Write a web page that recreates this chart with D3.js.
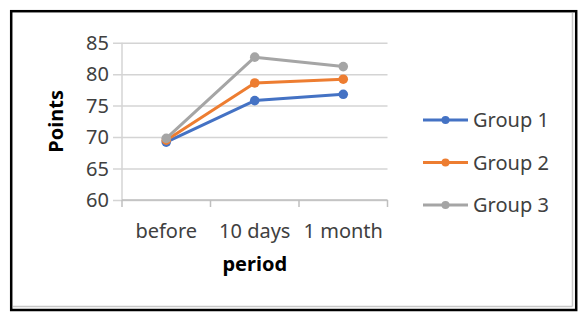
<!DOCTYPE html>
<html>
<head>
<meta charset="utf-8">
<script src="https://cdn.jsdelivr.net/npm/d3@7"></script>
<style>
  body { margin: 0; background: #fff; }
  text { font-family: "Noto Sans", sans-serif; fill: #404040; }
</style>
</head>
<body>
<div id="chart"></div>
<script>
// data
const periods = ["before", "10 days", "1 month"];
const group1 = [69.2, 75.8, 76.8];
const group2 = [69.5, 78.6, 79.2];
const group3 = [69.8, 82.7, 81.2];
const seriesNames = ["Group 1", "Group 2", "Group 3"];
const seriesColors = ["#4472C4", "#ED7D31", "#A5A5A5"];
const yTicks = [60, 65, 70, 75, 80, 85];

const series = [group1, group2, group3].map((vals, i) => ({
  name: seriesNames[i],
  color: seriesColors[i],
  values: vals.map((v, j) => ({ period: periods[j], value: v })),
}));

const config = {
  width: 585,
  height: 321,
  plot: { left: 122, right: 387.5, top: 42.7, bottom: 200 },
};

const svg = d3
  .select("#chart")
  .append("svg")
  .attr("width", config.width)
  .attr("height", config.height);

// frame
svg.append("line")
  .attr("x1", 13).attr("x2", 572.5).attr("y1", 306.5).attr("y2", 306.5)
  .attr("stroke", "#C8C8C8").attr("stroke-width", 1.5);
svg.append("line")
  .attr("x1", 572.5).attr("x2", 572.5).attr("y1", 13).attr("y2", 306.5)
  .attr("stroke", "#C8C8C8").attr("stroke-width", 1.5);
svg.append("rect")
  .attr("x", 11.2).attr("y", 11.2)
  .attr("width", 565).attr("height", 298.8)
  .attr("fill", "none").attr("stroke", "#000").attr("stroke-width", 2.5);

const p = config.plot;

const xScale = d3.scaleBand().domain(periods).range([p.left, p.right]);
const yScale = d3.scaleLinear().domain([60, 85]).range([p.bottom, p.top]);
const xMid = (d) => xScale(d) + xScale.bandwidth() / 2;

// gridlines + y axis
const yAxis = d3.axisLeft(yScale)
  .tickValues(yTicks)
  .tickSize(-(p.right - p.left))
  .tickPadding(13);

const yAxisGroup = svg.append("g")
  .attr("transform", `translate(${p.left},0)`)
  .call(yAxis);
yAxisGroup.select(".domain").remove();
yAxisGroup.selectAll(".tick line")
  .attr("x1", -9)
  .attr("stroke", "#D4D4D4")
  .attr("stroke-width", 1.5);
yAxisGroup.selectAll(".tick text")
  .style("font-size", "20px")
  .attr("dy", "0.34em")
  .style("fill", "#404040");

svg.append("line")
  .attr("x1", p.left).attr("x2", p.left)
  .attr("y1", p.top).attr("y2", p.bottom)
  .attr("stroke", "#D4D4D4").attr("stroke-width", 1.5);

// x axis
const xAxisGroup = svg.append("g")
  .attr("transform", `translate(0,${p.bottom})`);
xAxisGroup.append("line")
  .attr("x1", p.left).attr("x2", p.right)
  .attr("stroke", "#BFBFBF").attr("stroke-width", 1.5);
const edges = periods.map((d) => xScale(d)).concat([p.right]);
xAxisGroup.selectAll(".edge")
  .data(edges)
  .join("line")
  .attr("class", "edge")
  .attr("x1", (d) => d).attr("x2", (d) => d)
  .attr("y1", 0).attr("y2", 7)
  .attr("stroke", "#BFBFBF").attr("stroke-width", 1.5);
xAxisGroup.selectAll(".xlabel")
  .data(periods)
  .join("text")
  .attr("class", "xlabel")
  .attr("x", (d) => xMid(d))
  .attr("y", 37.5)
  .attr("text-anchor", "middle")
  .style("font-size", "20px")
  .text((d) => d);

// axis titles
svg.append("text")
  .attr("x", (p.left + p.right) / 2)
  .attr("y", 271)
  .attr("text-anchor", "middle")
  .style("font-size", "20px")
  .style("font-weight", "bold")
  .style("fill", "#000")
  .text("period");

svg.append("text")
  .attr("transform", `translate(63,${(p.top + p.bottom) / 2}) rotate(-90)`)
  .attr("text-anchor", "middle")
  .style("font-size", "20px")
  .style("font-weight", "bold")
  .style("fill", "#000")
  .text("Points");

// lines + markers
const line = d3.line()
  .x((d) => xMid(d.period))
  .y((d) => yScale(d.value));

const seriesGroups = svg.selectAll(".series")
  .data(series)
  .join("g")
  .attr("class", "series");

seriesGroups.append("path")
  .attr("d", (d) => line(d.values))
  .attr("fill", "none")
  .attr("stroke", (d) => d.color)
  .attr("stroke-width", 3)
  .attr("stroke-linejoin", "round");

seriesGroups.selectAll("circle")
  .data((d) => d.values.map((v) => ({ ...v, color: d.color })))
  .join("circle")
  .attr("cx", (d) => xMid(d.period))
  .attr("cy", (d) => yScale(d.value))
  .attr("r", 4.8)
  .attr("fill", (d) => d.color);

// legend
const legend = svg.selectAll(".legend")
  .data(series)
  .join("g")
  .attr("class", "legend")
  .attr("transform", (d, i) => `translate(423,${120 + i * 42.5})`);

legend.append("line")
  .attr("x1", 0).attr("x2", 45)
  .attr("stroke", (d) => d.color)
  .attr("stroke-width", 3);
legend.append("circle")
  .attr("cx", 22.5)
  .attr("r", 4)
  .attr("fill", (d) => d.color);
legend.append("text")
  .attr("x", 50)
  .attr("dy", "0.35em")
  .style("font-size", "20px")
  .text((d) => d.name);
</script>
</body>
</html>
